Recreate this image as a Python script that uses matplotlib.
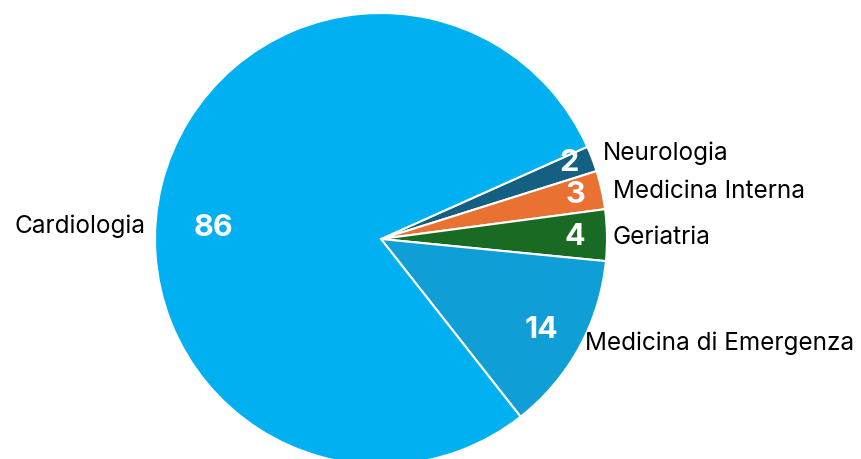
import numpy as np
import matplotlib
matplotlib.use("Agg")
import matplotlib.pyplot as plt

plt.rcParams['font.family'] = ['Inter', 'DejaVu Sans']

# data (clockwise from the upper right)
categories = ["Neurologia", "Medicina Interna", "Geriatria", "Medicina di Emergenza", "Cardiologia"]
values = [2, 3, 4, 14, 86]
colors = ["#156082", "#E97132", "#196B24", "#0F9ED5", "#00B0F0"]

# label layout in pixels (figure coords, y from top)
value_pos = [(569, 163), (575, 195), (575, 237), (541, 330), (213, 228)]
name_pos = [(603, 153, "left"), (613, 191, "left"), (613, 238, "left"),
            (585, 343, "left"), (146, 226, "right")]

W, H = 862, 459
fig = plt.figure(figsize=(W / 100, H / 100), dpi=100)
ax = fig.add_axes([0, 0, 1, 1])

ax.pie(values, colors=colors, startangle=24.1, counterclock=False,
       center=(381, H - 239), radius=226,
       wedgeprops=dict(edgecolor="white", linewidth=1.5))

ax.set_xlim(0, W)
ax.set_ylim(0, H)
ax.set_aspect("equal")
ax.axis("off")

for v, (x, y) in zip(values, value_pos):
    ax.text(x, H - y, str(v), color="white", fontsize=22, fontweight="bold",
            ha="center", va="center")

for name, (x, y, ha) in zip(categories, name_pos):
    ax.text(x, H - y, name, color="black", fontsize=17.5, ha=ha, va="center")

fig.savefig("out.png", dpi=100)
